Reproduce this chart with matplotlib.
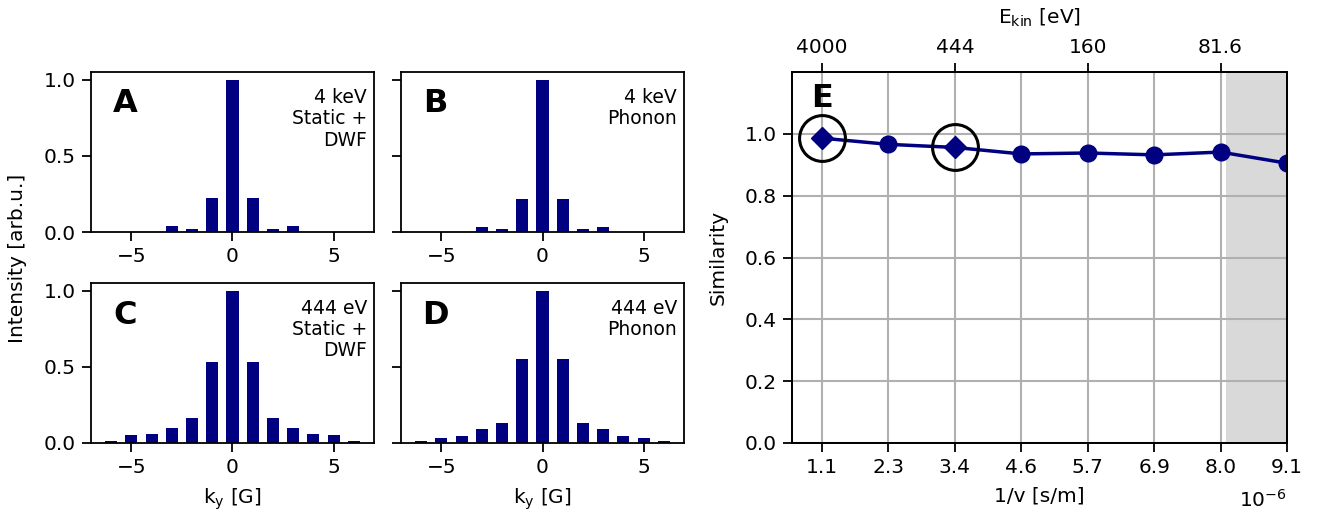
import numpy as np
import matplotlib
matplotlib.use("Agg")
import matplotlib.pyplot as plt

NAVY = "#000080"

# diffraction orders k_y
ky = [-6, -5, -4, -3, -2, -1, 0, 1, 2, 3, 4, 5, 6]
int_a = [0.0, 0.0, 0.0, 0.037, 0.018, 0.222, 1.0, 0.222, 0.018, 0.037, 0.0, 0.0, 0.0]
int_b = [0.0, 0.0, 0.0, 0.031, 0.018, 0.218, 1.0, 0.218, 0.018, 0.031, 0.0, 0.0, 0.0]
int_c = [0.013, 0.053, 0.059, 0.097, 0.165, 0.532, 1.0, 0.532, 0.165, 0.097, 0.059, 0.053, 0.013]
int_d = [0.011, 0.031, 0.044, 0.092, 0.134, 0.552, 1.0, 0.552, 0.134, 0.092, 0.044, 0.031, 0.011]

panel_letters = ["A", "B", "C", "D"]
panel_notes = ["4 keV\nStatic +\nDWF", "4 keV\nPhonon", "444 eV\nStatic +\nDWF", "444 eV\nPhonon"]

# similarity vs inverse velocity (units of 1e-6 s/m)
inv_v = [1.143, 2.286, 3.429, 4.571, 5.714, 6.857, 8.0, 9.143]
inv_v_labels = ["1.1", "2.3", "3.4", "4.6", "5.7", "6.9", "8.0", "9.1"]
similarity = [0.986, 0.966, 0.956, 0.935, 0.938, 0.932, 0.941, 0.905]
highlight = [0, 2]
ekin_pos = [1.143, 3.429, 5.714, 8.0]
ekin_labels = ["4000", "444", "160", "81.6"]
shade_from = 8.1

plt.rcParams["font.size"] = 14.5
plt.rcParams["axes.linewidth"] = 1.3
for a in ("xtick", "ytick"):
    plt.rcParams[a + ".major.size"] = 6.5
    plt.rcParams[a + ".major.width"] = 1.3
    plt.rcParams[a + ".major.pad"] = 4.5
plt.rcParams["axes.labelpad"] = 7

fig = plt.figure(figsize=(13.23, 5.22), dpi=100)
W, H = 1323, 522

def box(l, t, r, b):
    return [l / W, 1 - b / H, (r - l) / W, (b - t) / H]

rects = [box(91, 72, 374, 232), box(401, 72, 684, 232),
         box(91, 283, 374, 443), box(401, 283, 684, 443)]
data = [int_a, int_b, int_c, int_d]

for i, (rect, vals) in enumerate(zip(rects, data)):
    ax = fig.add_axes(rect)
    ax.bar(ky, vals, width=0.6, color=NAVY)
    ax.set_xlim(-7, 7)
    ax.set_ylim(0, 1.05)
    ax.set_xticks([-5, 0, 5])
    ax.set_yticks([0, 0.5, 1.0])
    if i % 2 == 0:
        ax.set_yticklabels(["0.0", "0.5", "1.0"])
    else:
        ax.set_yticklabels([])
    if i >= 2:
        ax.set_xlabel("k$_\\mathrm{y}$ [G]")
    ax.text(0.12, 0.8, panel_letters[i], transform=ax.transAxes, fontsize=23,
            fontweight="bold", ha="center", va="center")
    ax.text(0.975, 0.9, panel_notes[i], transform=ax.transAxes, ha="right", va="top",
            fontsize=13.5, linespacing=1.15)

fig.text(18 / W, 1 - 258 / H, "Intensity [arb.u.]", rotation=90, ha="center", va="center")

# panel E
axe = fig.add_axes(box(792, 72, 1287, 443))
axe.axvspan(shade_from, 10, color="#d9d9d9", zorder=0, lw=0)
axe.plot(inv_v, similarity, color=NAVY, lw=2.5, zorder=3, clip_on=True)
for j, (xv, yv) in enumerate(zip(inv_v, similarity)):
    mk = "D" if j in highlight else "o"
    ms = 11 if j in highlight else 12
    axe.plot(xv, yv, marker=mk, ms=ms, color=NAVY, zorder=4, clip_on=True)
for j in highlight:
    axe.plot(inv_v[j], similarity[j], marker="o", ms=33, mfc="none", mec="black",
             mew=2.2, zorder=5)
axe.set_xlim(0.627, 9.143)
axe.set_ylim(0, 1.2)
axe.set_xticks(inv_v)
axe.set_xticklabels(inv_v_labels)
axe.set_yticks([0, 0.2, 0.4, 0.6, 0.8, 1.0])
axe.grid(True, color="#b0b0b0", lw=1.5)
axe.set_axisbelow(True)
axe.set_xlabel("1/v [s/m]")
axe.set_ylabel("Similarity", labelpad=12)
axe.text(1.0, -0.125, "10$^{-6}$", transform=axe.transAxes, ha="right", va="top")
axe.text(inv_v[0], 1.115, "E", fontsize=23, fontweight="bold", ha="center", va="center")

top = axe.twiny()
top.set_xlim(axe.get_xlim())
top.set_xticks(ekin_pos)
top.set_xticklabels(ekin_labels)
top.set_xlabel("E$_\\mathrm{kin}$ [eV]", labelpad=10)

fig.savefig("out.png", dpi=100)
